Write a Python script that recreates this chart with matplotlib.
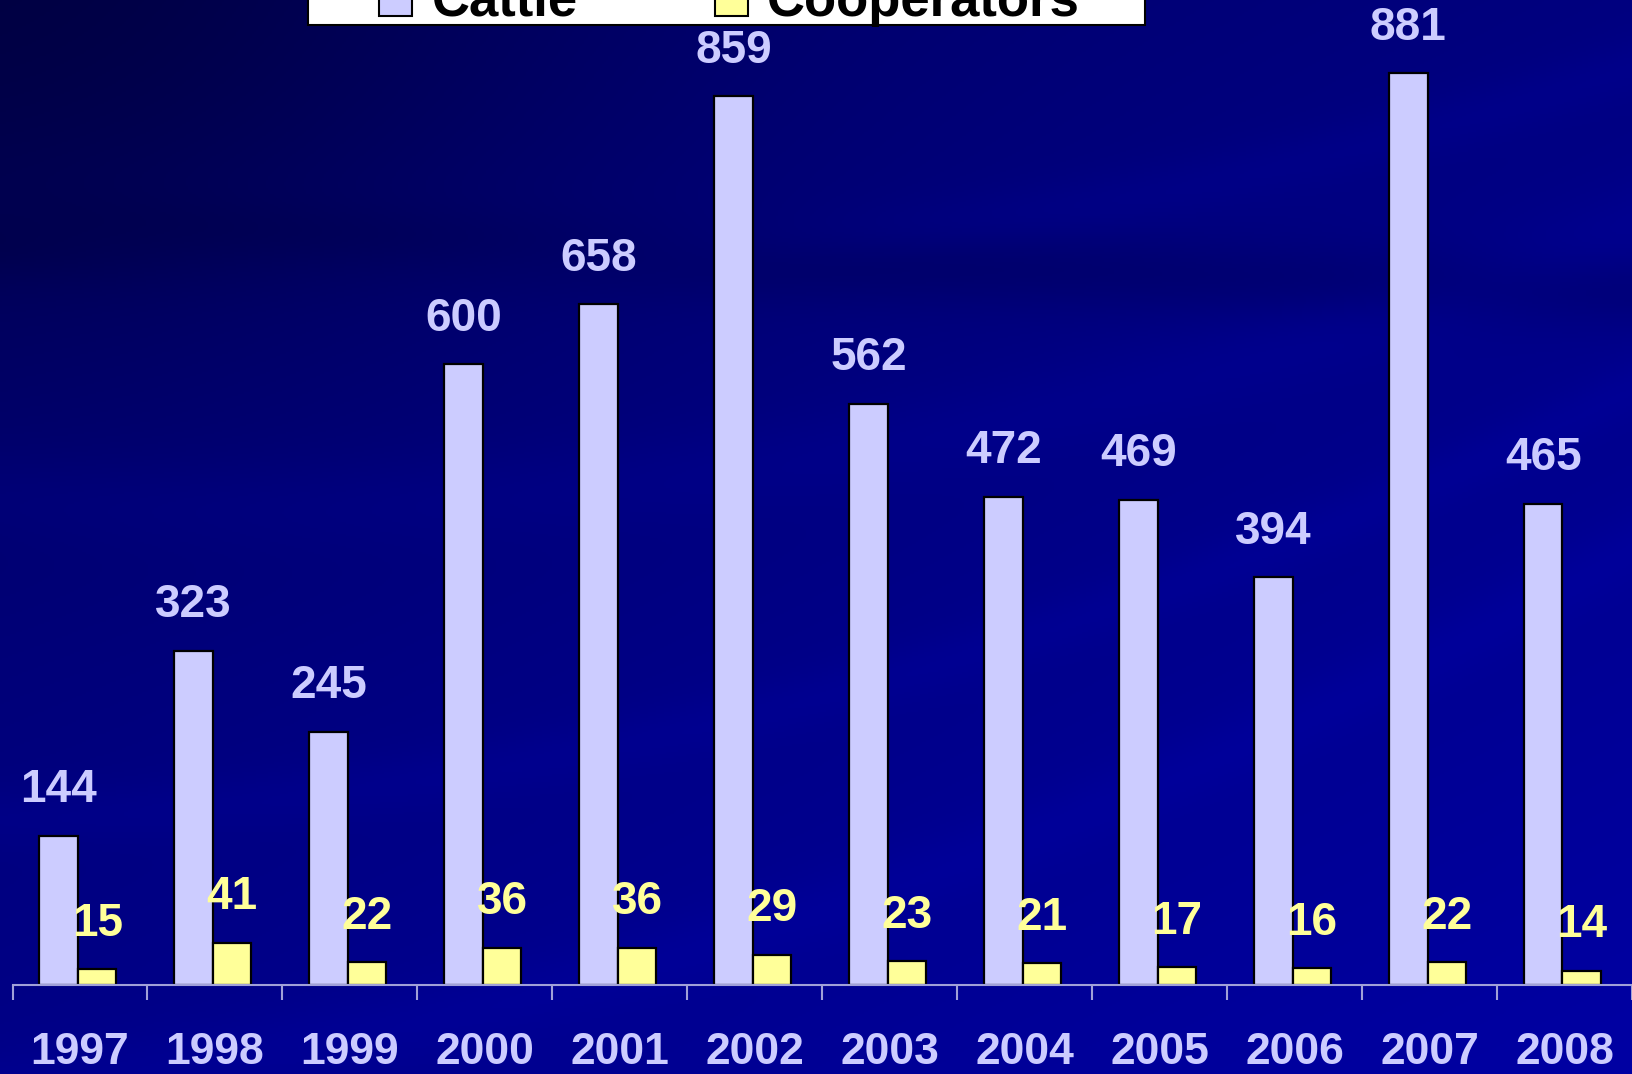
import matplotlib.pyplot as plt
from matplotlib.patches import Rectangle
import numpy as np

years = ["1997", "1998", "1999", "2000", "2001", "2002",
         "2003", "2004", "2005", "2006", "2007", "2008"]
cattle = [144, 323, 245, 600, 658, 859, 562, 472, 469, 394, 881, 465]
cooperators = [15, 41, 22, 36, 36, 29, 23, 21, 17, 16, 22, 14]
series = ["Cattle", "Cooperators"]

CATTLE_C = "#CCCCFF"
COOP_C = "#FFFF99"
FONT = "Liberation Sans"
W, H = 1632, 1074

fig = plt.figure(figsize=(W / 100, H / 100), dpi=100)

# background: dark navy gradient with faint light streaks
bg = fig.add_axes([0, 0, 1, 1], zorder=-10)
h, w = 537, 816
yy, xx = np.mgrid[0:1:h * 1j, 0:1:w * 1j]
base = 0.28 + 0.22 * xx + 0.28 * yy
base = np.clip(base - 0.25 * np.exp(-((xx) ** 2 + (yy) ** 2) / 0.12), 0, 1)
streak = np.zeros_like(xx)
for a, b, s in [(0.55, 0.25, 0.03), (0.85, 0.4, 0.02),
                (1.1, 0.5, 0.025), (0.3, 0.15, 0.02)]:
    d = yy - (a - b * xx - 0.35 * (xx - 0.5) ** 2)
    streak += 0.06 * np.exp(-(d ** 2) / (2 * s ** 2))
band = np.exp(-((yy - 0.22 - 0.05 * xx) ** 2) / (2 * 0.025 ** 2))
v = np.clip(base + streak - 0.12 * band, 0, 1)
img = np.zeros((h, w, 3))
img[..., 2] = 0.25 + 0.5 * v
bg.imshow(img, aspect="auto", extent=[0, 1, 0, 1], origin="upper")
bg.axis("off")

ax = fig.add_axes([12.5 / W, 1 - 985 / H, 1 - 12.5 / W, 985 / H])
ax.patch.set_alpha(0)

x = np.arange(len(years))
bw = 0.285
b1 = ax.bar(x - bw / 2 - 0.015, cattle, bw, color=CATTLE_C, edgecolor="black",
            linewidth=1.6)
b2 = ax.bar(x + bw / 2 - 0.015, cooperators, bw, color=COOP_C, edgecolor="black",
            linewidth=1.6)

for bars, vals, col in [(b1, cattle, CATTLE_C), (b2, cooperators, COOP_C)]:
    for rect, val in zip(bars, vals):
        ax.annotate(str(val), (rect.get_x() + rect.get_width() / 2, val),
                    xytext=(0, 17), textcoords="offset points", ha="center",
                    va="bottom", fontsize=33, fontweight="bold", color=col,
                    family=FONT)

ax.set_xlim(-0.5, len(years) - 0.5)
ax.set_ylim(0, 952)
for s in ["top", "right", "left"]:
    ax.spines[s].set_visible(False)
ax.spines["bottom"].set_color("#A0A0D8")
ax.spines["bottom"].set_linewidth(1.5)
ax.set_yticks([])
ax.set_xticks(x)
ax.set_xticklabels(years, fontsize=32, fontweight="bold", color=CATTLE_C,
                   family=FONT)
ax.tick_params(axis="x", which="major", length=0, pad=34)
ax.set_xticks(np.arange(len(years) + 1) - 0.5, minor=True)
ax.tick_params(axis="x", which="minor", length=11, width=1.5, color="#A0A0D8")

# legend box, mostly cut off by the top edge
def px(xp, yp):
    return xp / W, 1 - yp / H

fig.patches.append(Rectangle(px(308, 25), (1145 - 308) / W, 100 / H,
                             transform=fig.transFigure, facecolor="white",
                             edgecolor="black", linewidth=1.5, zorder=5))
for name, col, sx, tx in [(series[0], CATTLE_C, 379, 432),
                          (series[1], COOP_C, 715, 767)]:
    fig.patches.append(Rectangle(px(sx, 16), 33 / W, 33 / H,
                                 transform=fig.transFigure, facecolor=col,
                                 edgecolor="black", linewidth=1.5, zorder=6))
    fig.text(*px(tx, 16), name, fontsize=38, fontweight="bold", family=FONT,
             color="black", ha="left", va="baseline", zorder=7)

fig.savefig("out.png", dpi=100)
